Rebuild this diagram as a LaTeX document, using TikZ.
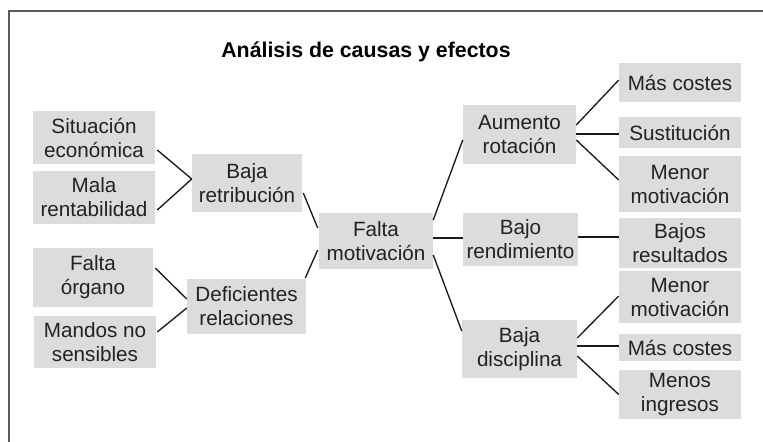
\documentclass[tikz,border=0pt]{standalone}
\usepackage{fontspec}
\setmainfont{Liberation Sans}
\usetikzlibrary{calc}
\definecolor{boxfill}{HTML}{DCDCDE}
\definecolor{txt}{HTML}{222222}
\definecolor{frame}{HTML}{5C5C5C}
\newlength{\pxu}
\setlength{\pxu}{0.75pt}
\begin{document}
\begin{tikzpicture}[x=0.75pt,y=-0.75pt,
  box/.style={rectangle,fill=boxfill,text=txt,inner sep=0pt,align=center,
    font=\fontsize{15.5pt}{18pt}\selectfont},
  conn/.style={line width=1pt,color=black!90}]
\useasboundingbox (0,0) rectangle (763,442);
\draw[frame,line width=1.5pt] (763,11.5) -- (9,11.5) -- (9,442);
\node[text=black,font=\bfseries\fontsize{16pt}{18pt}\selectfont] (title) at (366,51.5) {Análisis de causas y efectos};
% left causes
\node[box,minimum width=122\pxu,minimum height=53\pxu] (sit) at (94,137.5) {Situación\\económica};
\node[box,minimum width=122\pxu,minimum height=53\pxu] (mala) at (94,197.5) {Mala\\rentabilidad};
\node[box,minimum width=110\pxu,minimum height=58\pxu] (bajar) at (247,183) {Baja\\retribución};
\node[box,minimum width=120\pxu,minimum height=59\pxu] (forg) at (93,277.5) {Falta\\órgano};
\node[box,minimum width=122\pxu,minimum height=52\pxu] (mandos) at (95,342) {Mandos no\\sensibles};
\node[box,minimum width=119\pxu,minimum height=55\pxu] (defic) at (246.5,306.5) {Deficientes\\relaciones};
% centre
\node[box,minimum width=114\pxu,minimum height=56\pxu] (fmot) at (376,241) {Falta\\motivación};
% effects
\node[box,minimum width=113\pxu,minimum height=59\pxu] (aum) at (519.5,134.5) {Aumento\\rotación};
\node[box,minimum width=115\pxu,minimum height=53\pxu] (brend) at (520.5,239.5) {Bajo\\rendimiento};
\node[box,minimum width=115\pxu,minimum height=58\pxu] (bdisc) at (519.5,349) {Baja\\disciplina};
\node[box,minimum width=122\pxu,minimum height=39\pxu] (mc1) at (680,82.5) {Más costes};
\node[box,minimum width=122\pxu,minimum height=31\pxu] (sust) at (680,132.5) {Sustitución};
\node[box,minimum width=122\pxu,minimum height=56\pxu] (mm1) at (680,184) {Menor\\motivación};
\node[box,minimum width=122\pxu,minimum height=50\pxu] (bres) at (680,243) {Bajos\\resultados};
\node[box,minimum width=122\pxu,minimum height=52\pxu] (mm2) at (680,297) {Menor\\motivación};
\node[box,minimum width=122\pxu,minimum height=27\pxu] (mc2) at (680,347.5) {Más costes};
\node[box,minimum width=122\pxu,minimum height=49\pxu] (ming) at (680,394.5) {Menos\\ingresos};
% connectors
\draw[conn] ($(sit.east)+(2,12.5)$) -- ($(bajar.west)+(0,-4)$);
\draw[conn] ($(mala.east)+(2,12.5)$) -- ($(bajar.west)+(0,-4)$);
\draw[conn] ($(bajar.east)+(1,10)$) -- ($(fmot.west)+(-1,-13)$);
\draw[conn] ($(forg.east)+(2,-9.5)$) -- ($(defic.west)+(0,-7.5)$);
\draw[conn] ($(mandos.east)+(1,-10)$) -- ($(defic.west)+(0,1.5)$);
\draw[conn] ($(defic.east)+(-1,-28.5)$) -- ($(fmot.west)+(-1,9)$);
\draw[conn] ($(fmot.east)+(0,-21)$) -- ($(aum.west)+(0,5.5)$);
\draw[conn] ($(fmot.east)+(0,-3)$) -- ($(brend.west)+(0,-1.5)$);
\draw[conn] ($(fmot.east)+(0,14)$) -- ($(bdisc.west)+(0,-18)$);
\draw[conn] ($(aum.east)+(0,-9.5)$) -- ($(mc1.west)+(0,-2.5)$);
\draw[conn] ($(aum.east)+(0,-0.5)$) -- ($(sust.west)+(0,1.5)$);
\draw[conn] ($(aum.east)+(0,5.5)$) -- ($(mm1.west)+(0,-4)$);
\draw[conn] ($(brend.east)+(0,-2.5)$) -- ($(bres.west)+(0,-6)$);
\draw[conn] ($(bdisc.east)+(0,-11)$) -- ($(mm2.west)+(0,-1)$);
\draw[conn] ($(bdisc.east)+(0,-3)$) -- ($(mc2.west)+(0,-1.5)$);
\draw[conn] ($(bdisc.east)+(0,7)$) -- ($(ming.west)+(0,0)$);
\end{tikzpicture}
\end{document}
